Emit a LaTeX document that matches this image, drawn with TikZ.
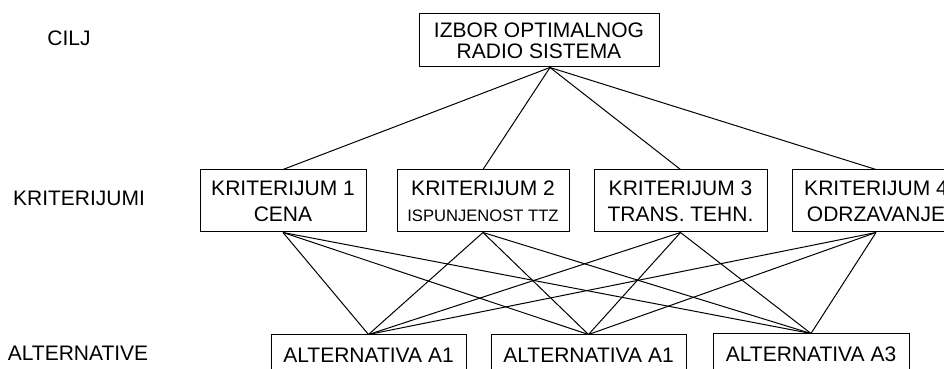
\documentclass[tikz,border=0pt]{standalone}
\usepackage{fontspec}
\setmainfont{Liberation Sans}
\usetikzlibrary{positioning}
\tikzset{
    kutija/.style ={
        shape=rectangle,
        draw=black,
        line width=0.5pt,
        align=center,
        inner sep=0pt,
        font=\fontsize{10.5}{13}\selectfont
    },
    nivo/.style ={
        inner sep=0pt,
        font=\fontsize{10.5}{13}\selectfont
    },
    veza/.style ={
        line width=0.5pt
    }
}

\begin{document}
\begin{tikzpicture}[x=0.5pt,y=-0.5pt]
    \useasboundingbox (0,0) rectangle (944,369);
    \clip (0,0) rectangle (944,369);
    % nivoi
    \node[nivo] (n1) at (69,38) {CILJ};
    \node[nivo] (n2) at (79,198) {KRITERIJUMI};
    \node[nivo] (n3) at (78,353) {ALTERNATIVE};
    % cilj
    \node[kutija,minimum width=120pt,minimum height=26.5pt,
        font=\fontsize{10.5}{10.5}\selectfont] (cilj) at (539,40.5)
        {IZBOR OPTIMALNOG\\RADIO SISTEMA};
    \coordinate (vrh) at ([xshift=5.5pt]cilj.south);
    % kriterijumi
    \node[kutija,minimum width=83pt,minimum height=31pt] (k1) at (283,201)
        {KRITERIJUM 1\\CENA};
    \node[kutija,minimum width=86pt,minimum height=31pt] (k2) at (483,201)
        {KRITERIJUM 2\\{\fontsize{8.3}{13}\selectfont ISPUNJENOST TTZ}};
    \node[kutija,minimum width=86.5pt,minimum height=31pt] (k3) at (680.5,201)
        {KRITERIJUM 3\\TRANS. TEHN.};
    \node[kutija,minimum width=84pt,minimum height=31pt] (k4) at (876,201)
        {KRITERIJUM 4\\ODRZAVANJE};
    % alternative
    \node[kutija,minimum width=97.5pt,minimum height=20pt] (a1) at (368.5,355)
        {ALTERNATIVA A1};
    \node[kutija,minimum width=97.5pt,minimum height=20pt] (a2) at (588.5,355)
        {ALTERNATIVA A1};
    \node[kutija,minimum width=98pt,minimum height=20pt] (a3) at (811,354)
        {ALTERNATIVA A3};
    % veze
    \foreach \k in {1,...,4}{
        \draw[veza] (vrh) -- (k\k.north);
        \foreach \a in {1,2,3}
            \draw[veza] (k\k.south) -- (a\a.north);
    }
\end{tikzpicture}
\end{document}
